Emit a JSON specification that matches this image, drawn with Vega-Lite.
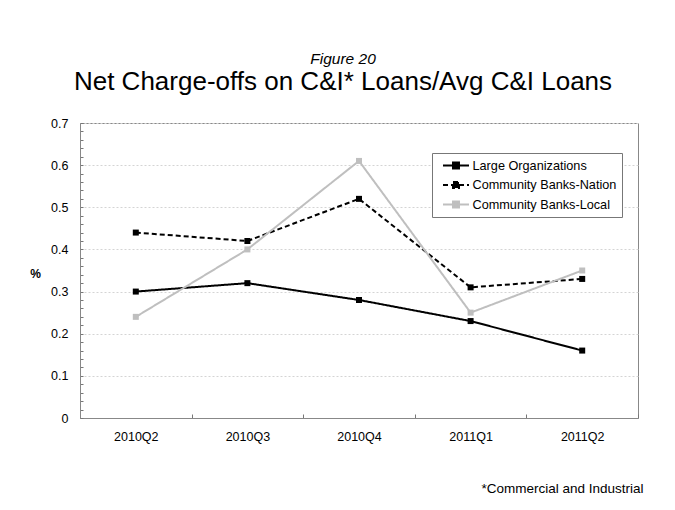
{
  "$schema": "https://vega.github.io/schema/vega-lite/v6.json",
  "autosize": {"type": "none"},
  "width": 558,
  "height": 295,
  "padding": {"left": 80, "top": 123, "right": 37, "bottom": 92},
  "background": "white",
  "title": {
    "text": "Figure 20",
    "subtitle": "Net Charge-offs on C&I* Loans/Avg C&I Loans",
    "anchor": "middle",
    "dx": -16,
    "font": "Liberation Sans",
    "fontSize": 15.5,
    "fontStyle": "italic",
    "fontWeight": "normal",
    "color": "#000",
    "subtitleFont": "Liberation Sans",
    "subtitleFontSize": 26,
    "subtitleColor": "#000",
    "subtitlePadding": 2,
    "offset": 22
  },
  "data": {
    "values": [
      {"q": "2010Q2", "series": "Large Organizations", "v": 0.30},
      {"q": "2010Q3", "series": "Large Organizations", "v": 0.32},
      {"q": "2010Q4", "series": "Large Organizations", "v": 0.28},
      {"q": "2011Q1", "series": "Large Organizations", "v": 0.23},
      {"q": "2011Q2", "series": "Large Organizations", "v": 0.16},
      {"q": "2010Q2", "series": "Community Banks-Nation", "v": 0.44},
      {"q": "2010Q3", "series": "Community Banks-Nation", "v": 0.42},
      {"q": "2010Q4", "series": "Community Banks-Nation", "v": 0.52},
      {"q": "2011Q1", "series": "Community Banks-Nation", "v": 0.31},
      {"q": "2011Q2", "series": "Community Banks-Nation", "v": 0.33},
      {"q": "2010Q2", "series": "Community Banks-Local", "v": 0.24},
      {"q": "2010Q3", "series": "Community Banks-Local", "v": 0.40},
      {"q": "2010Q4", "series": "Community Banks-Local", "v": 0.61},
      {"q": "2011Q1", "series": "Community Banks-Local", "v": 0.25},
      {"q": "2011Q2", "series": "Community Banks-Local", "v": 0.35}
    ]
  },
  "mark": {
    "type": "line",
    "strokeWidth": 2,
    "point": {"shape": "square", "size": 36, "filled": true}
  },
  "encoding": {
    "x": {
      "field": "q",
      "type": "ordinal",
      "bandPosition": 0.5,
      "scale": {"type": "band", "paddingInner": 0, "paddingOuter": 0},
      "axis": {
        "title": "*Commercial and Industrial",
        "titleFont": "Liberation Sans",
        "titleFontSize": 13.5,
        "titleFontWeight": "normal",
        "titleColor": "#000",
        "titleAlign": "right",
        "titleAnchor": null,
        "titleBaseline": "alphabetic",
        "titleX": 563,
        "titleY": 74,
        "labelAngle": 0,
        "labelFont": "Liberation Sans",
        "labelFontSize": 12.5,
        "labelColor": "#000",
        "labelPadding": 16,
        "tickBand": "extent",
        "tickSize": -4,
        "tickColor": "#777",
        "domainColor": "#888",
        "grid": false
      }
    },
    "y": {
      "field": "v",
      "type": "quantitative",
      "scale": {"domain": [0, 0.7], "nice": false},
      "axis": {
        "title": "%",
        "titleAngle": 0,
        "titleAlign": "center",
        "titleBaseline": "middle",
        "titleX": -45,
        "titleY": 150,
        "titleFont": "Liberation Sans",
        "titleFontSize": 12,
        "titleFontWeight": "bold",
        "titleColor": "#000",
        "values": [0, 0.02, 0.04, 0.06, 0.08, 0.1, 0.12, 0.14, 0.16, 0.18, 0.2, 0.22, 0.24, 0.26, 0.28, 0.3, 0.32, 0.34, 0.36, 0.38, 0.4, 0.42, 0.44, 0.46, 0.48, 0.5, 0.52, 0.54, 0.56, 0.58, 0.6, 0.62, 0.64, 0.66, 0.68, 0.7],
        "format": ".1~f",
        "labelExpr": "abs(datum.value*10 - round(datum.value*10)) < 0.001 ? datum.label : ''",
        "labelFont": "Liberation Sans",
        "labelFontSize": 12.5,
        "labelColor": "#000",
        "labelPadding": 15,
        "tickSize": -3,
        "tickColor": "#777",
        "domainColor": "#888",
        "grid": true,
        "gridColor": "#d4d4d4",
        "gridDash": [2, 2],
        "gridOpacity": {"condition": {"test": "abs(datum.value*10 - round(datum.value*10)) < 0.001", "value": 1}, "value": 0}
      }
    },
    "color": {
      "field": "series",
      "type": "nominal",
      "sort": null,
      "scale": {
        "domain": ["Large Organizations", "Community Banks-Nation", "Community Banks-Local"],
        "range": ["#000000", "#000000", "#bfbfbf"]
      },
      "legend": {
        "title": null,
        "orient": "none",
        "legendX": 352,
        "legendY": 30,
        "strokeColor": "#777",
        "fillColor": "white",
        "padding": 5,
        "symbolOffset": 11.5,
        "symbolType": "M-2,0H2M-0.46,-0.46H0.46V0.46H-0.46Z",
        "symbolSize": 169,
        "symbolStrokeWidth": 2,
        "labelFont": "Liberation Sans",
        "labelFontSize": 12.7,
        "labelColor": "#000",
        "labelOffset": 9,
        "rowPadding": 4.5,
        "encode": {"symbols": {"update": {"fill": {"scale": "color", "field": "value"}}}}
      }
    },
    "strokeDash": {
      "field": "series",
      "type": "nominal",
      "scale": {
        "domain": ["Large Organizations", "Community Banks-Nation", "Community Banks-Local"],
        "range": [[1, 0], [5, 3], [1, 0]]
      },
      "legend": null
    }
  },
  "config": {
    "view": {"stroke": "#888", "strokeWidth": 1}
  }
}
